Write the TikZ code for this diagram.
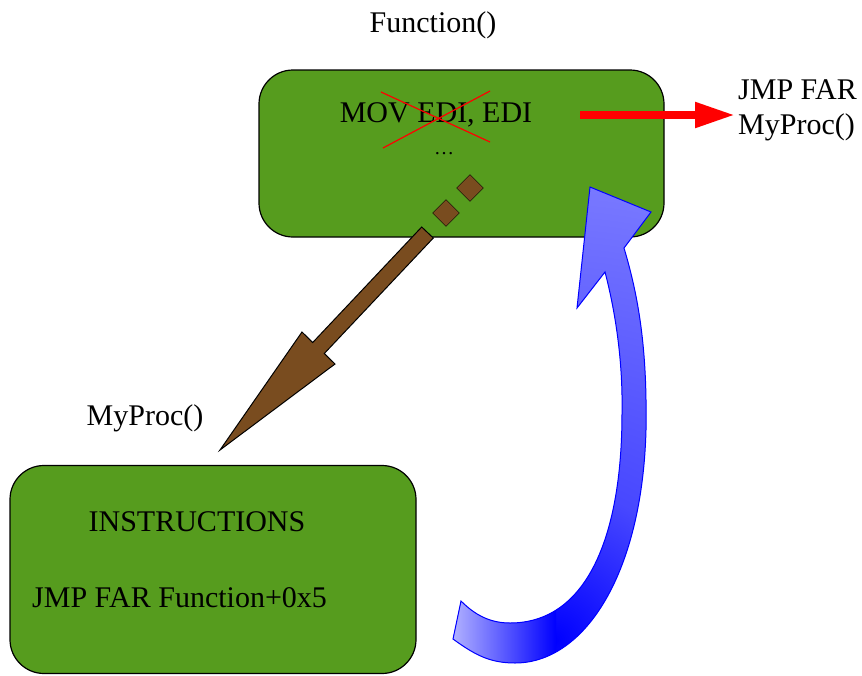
\documentclass[tikz,border=0pt]{standalone}
\usepackage{fontspec}
\setmainfont{Liberation Serif}
\usetikzlibrary{arrows.meta}

\definecolor{boxgreen}{RGB}{86,156,30}
\definecolor{jumpbrown}{RGB}{121,76,31}
\pgfdeclareradialshading{backshade}{\pgfpoint{0bp}{0bp}}{color(0bp)=(blue); color(8bp)=(blue!72); color(50bp)=(blue!22)}

\newcommand{\returnpath}{(453,639) .. controls (475,655) and (490,663) .. (515,663)
  .. controls (590,663) and (650,560) .. (646,400)
  .. controls (645,330) and (635,285) .. (624,248)
  -- (651,212) -- (590,187) -- (577,308) -- (605,272)
  .. controls (615,310) and (623,360) .. (622,413)
  .. controls (622,540) and (585,623) .. (510,623)
  .. controls (490,623) and (475,615) .. (461,601) -- cycle}

\tikzset{
  codebox/.style={draw=black, line width=1.2, fill=boxgreen, rounded corners=34},
  txt/.style={inner sep=0, font=\fontsize{30}{35}\selectfont},
}

\begin{document}
\begin{tikzpicture}[x=1pt, y=-1pt]
	\useasboundingbox (0,0) rectangle (862,675);

	\node[codebox, minimum width=405, minimum height=167] (fn) at (461.5,153.5) {};
	\node[codebox, minimum width=406, minimum height=208] (proc) at (213,569.5) {};

	\node[txt] (fname) at (433,25) {Function()};
	\node[txt] (mov) at (436,115) {MOV EDI, EDI};
	\node[txt, font=\fontsize{20}{24}\selectfont] (dots) at (444,154) {\ldots};
	\node[txt, align=left, anchor=west] (jmp) at (738,110) {JMP FAR\\MyProc()};
	\node[txt] (pname) at (145,418) {MyProc()};
	\node[txt] (instr) at (197,522) {INSTRUCTIONS};
	\node[txt, anchor=west] (jback) at (32,598) {JMP FAR Function+0x5};

	% crossed out
	\draw[red, line width=1.2] (381,92) -- (490,142) (383,148) -- (490,91);

	\coordinate (rstart) at (580,115);
	\draw[red, line width=8, -{Triangle[length=40pt, width=24pt]}] (rstart) -- ([xshift=-3]rstart -| jmp.west);

	\draw[black, line width=1, fill=jumpbrown] (421.7,227) -- (312.7,342.5) -- (302,332) -- (220,450)
	  -- (335,364) -- (324.3,353.5) -- (433.3,238) -- cycle;
	\foreach \n/\x/\y in {1/470/188, 2/446/213}
		\node[draw, fill=jumpbrown, rotate=45, minimum size=19, inner sep=0] (d\n) at (\x,\y) {};

	% jump back
	\begin{scope}
		\clip \returnpath;
		\shade[shading=backshade] (555,640) circle (470);
		\shade[left color=blue!22, right color=blue] (440,585) rectangle (556,680);
	\end{scope}
	\draw[blue, line width=1] \returnpath;
\end{tikzpicture}
\end{document}
